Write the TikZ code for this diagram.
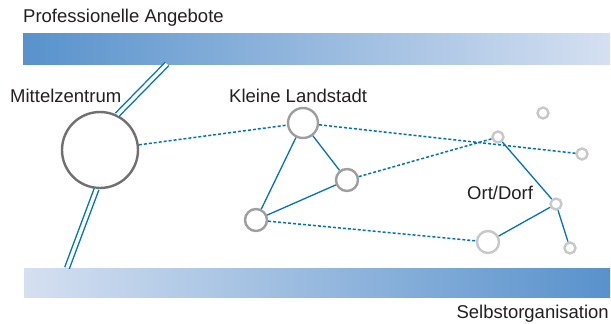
\documentclass[tikz,border=0pt]{standalone}
\usepackage{fontspec}
\setmainfont{Liberation Sans}
\definecolor{lineblue}{RGB}{0,115,190}
\definecolor{bardark}{RGB}{88,146,204}
\definecolor{barlight}{RGB}{213,224,241}
\definecolor{txt}{RGB}{35,31,32}
\definecolor{cbig}{RGB}{112,112,112}
\definecolor{cmid}{RGB}{158,158,158}
\definecolor{csmall}{RGB}{200,200,200}
\tikzset{
  lbl/.style={inner sep=0pt, text=txt, font=\fontsize{18.5}{22}\selectfont},
  town/.style={circle, draw, fill=white, inner sep=0pt, line width=2.4pt},
  bigtown/.style={town, draw=cbig, minimum size=76pt},
  midtown/.style={town, draw=cmid},
  smalltown/.style={town, draw=csmall},
  link/.style={draw=lineblue, line width=1.3pt},
  weak/.style={draw=lineblue, line width=1.5pt, dash pattern=on 3pt off 2pt},
  road/.style={draw=lineblue, line width=1.4pt, double=white, double distance=3.4pt},
}
\begin{document}
\begin{tikzpicture}[x=1pt,y=-1pt]
\useasboundingbox (0,0) rectangle (611,324);
% bars
\shade[left color=bardark, right color=barlight] (23,33) rectangle (610,64);
\shade[left color=barlight, right color=bardark] (24,268) rectangle (610,297);
\coordinate (tt) at (167,64);
\coordinate (bb) at (67,268);
% labels
\node[lbl, anchor=base west] (pa) at (23,23) {Professionelle Angebote};
\node[lbl, anchor=base west] (mzl) at (10,102) {Mittelzentrum};
\node[lbl, anchor=base west] (kll) at (229,102) {Kleine Landstadt};
\node[lbl, anchor=base west] (odl) at (467,199) {Ort/Dorf};
\node[lbl, anchor=base east] (sol) at (609,318) {Selbstorganisation};
% towns
\node[bigtown] (mz) at (100,150) {};
\node[midtown, minimum size=30pt] (a) at (303,123) {};
\node[midtown, minimum size=22pt] (b) at (347,180) {};
\node[midtown, minimum size=22pt] (c) at (256,220) {};
\node[smalltown, minimum size=11pt] (d) at (543,113) {};
\node[smalltown, minimum size=11pt] (e) at (498,137) {};
\node[smalltown, minimum size=11pt] (f) at (582,154) {};
\node[smalltown, minimum size=11pt] (g) at (556,204) {};
\node[smalltown, minimum size=22pt] (h) at (488,242) {};
\node[smalltown, minimum size=11pt] (i) at (570,248) {};
% roads
\draw[road] (mz.64) -- (tt);
\draw[road] (mz.265) -- (bb);
% weak links
\draw[weak] (mz) -- (a);
\draw[weak] (a) -- (f);
\draw[weak] (b) -- (e);
\draw[weak] (c) -- (h);
% strong links
\draw[link] (a) -- (b);
\draw[link] (a) -- (c);
\draw[link] (b) -- (c);
\draw[link] (e) -- (g);
\draw[link] (g) -- (i);
\draw[link] (g) -- (h);
\end{tikzpicture}
\end{document}
